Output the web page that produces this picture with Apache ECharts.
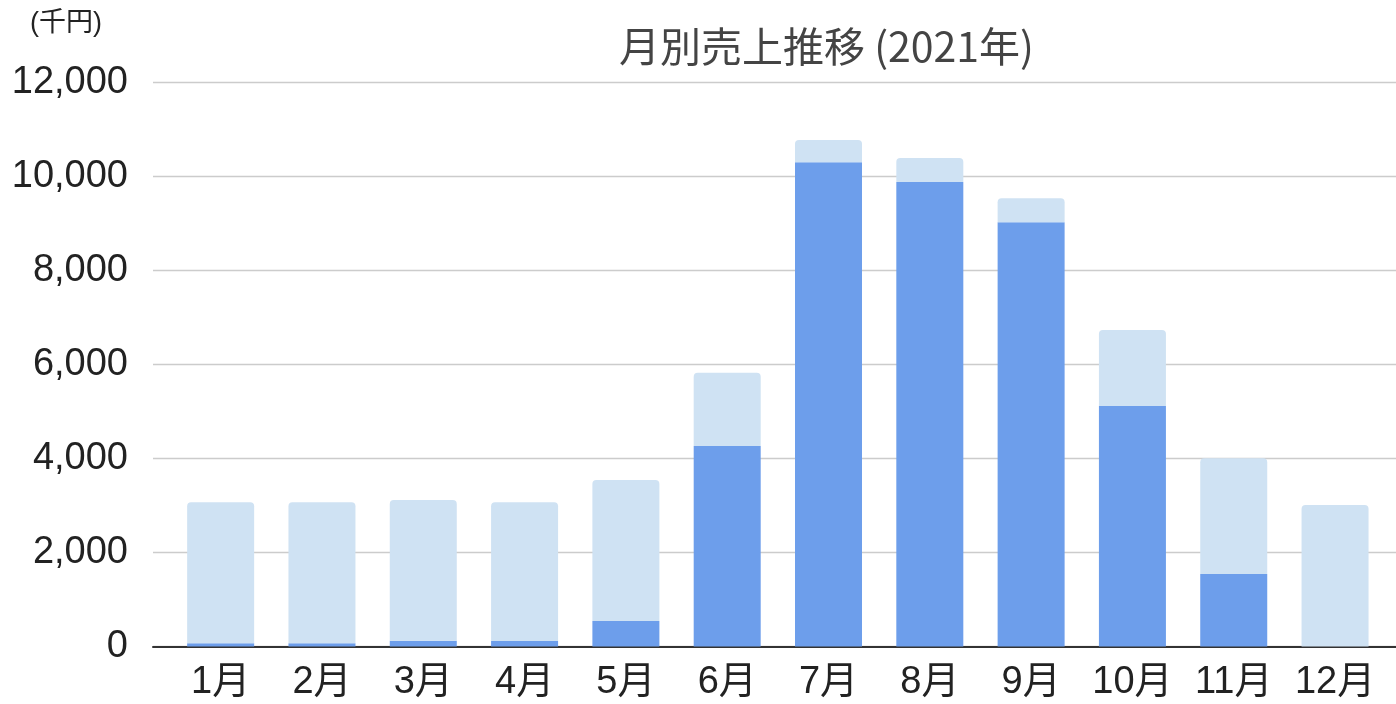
<!DOCTYPE html>
<html>
<head>
<meta charset="utf-8">
<script src="https://cdn.jsdelivr.net/npm/echarts@6/dist/echarts.min.js"></script>
<style>
html,body{margin:0;padding:0;background:#fff;}
#chart{width:1396px;height:704px;}
</style>
</head>
<body>
<div id="chart"></div>
<script>
const categories = ['1月','2月','3月','4月','5月','6月','7月','8月','9月','10月','11月','12月'];
const salesActual = [70, 70, 123, 117, 542, 4264, 10298, 9879, 9022, 5115, 1542, 0];
const salesRemain = [2997, 2997, 2993, 2950, 2999, 1559, 474, 510, 510, 1616, 2461, 3009];
const yTicks = { min: 0, max: 12000, interval: 2000 };
const titleText = '月別売上推移 (2021年)';
const unitText = '(千円)';

const chart = echarts.init(document.getElementById('chart'), null, {renderer: 'canvas'});
const labelFont = '"Liberation Sans", Arial, "Noto Sans CJK JP", sans-serif';
const option = {
  animation: false,
  backgroundColor: '#fff',
  title: [
    { text: titleText, left: 614, top: 21,
      textStyle: { fontFamily: '"Noto Sans CJK JP", sans-serif', fontSize: 41, fontWeight: 'normal', color: '#444' } },
    { text: unitText, left: 25, top: 5,
      textStyle: { fontFamily: labelFont, fontSize: 27, fontWeight: 'normal', color: '#222' } }
  ],
  grid: [
    { left: 153, right: 0, top: 82.3, bottom: 57.5, containLabel: false },
    { left: 170, right: 10.3, top: 82.3, bottom: 57.5, containLabel: false }
  ],
  xAxis: [
    { gridIndex: 0, type: 'category', data: [''], axisTick: {show: false}, axisLabel: {show: false},
      axisLine: { show: true, lineStyle: { color: '#333', width: 2 } }, splitLine: {show: false} },
    { gridIndex: 1, type: 'category', data: categories, axisTick: {show: false},
      axisLine: { show: false },
      axisLabel: { interval: 0, margin: 17, fontSize: 38, fontFamily: labelFont, color: '#222' } }
  ],
  yAxis: [
    { gridIndex: 0, type: 'value', min: yTicks.min, max: yTicks.max, interval: yTicks.interval,
      axisLine: {show: false}, axisTick: {show: false},
      splitLine: { show: true, lineStyle: { color: '#ccc', width: 1.3 } },
      axisLabel: { margin: 25, fontSize: 38, fontFamily: labelFont, color: '#222',
        formatter: v => v.toLocaleString('en-US') } },
    { gridIndex: 1, type: 'value', min: yTicks.min, max: yTicks.max, interval: yTicks.interval,
      axisLine: {show: false}, axisTick: {show: false}, splitLine: {show: false}, axisLabel: {show: false} }
  ],
  series: [
    { name: '売上', type: 'bar', stack: 'total', xAxisIndex: 1, yAxisIndex: 1,
      data: salesActual, barWidth: 67,
      itemStyle: { color: '#6d9eeb' } },
    { name: '残り', type: 'bar', stack: 'total', xAxisIndex: 1, yAxisIndex: 1,
      data: salesRemain, barWidth: 67,
      itemStyle: { color: '#cfe2f3', borderRadius: [4,4,0,0] } }
  ]
};
chart.setOption(option);
</script>
</body>
</html>
